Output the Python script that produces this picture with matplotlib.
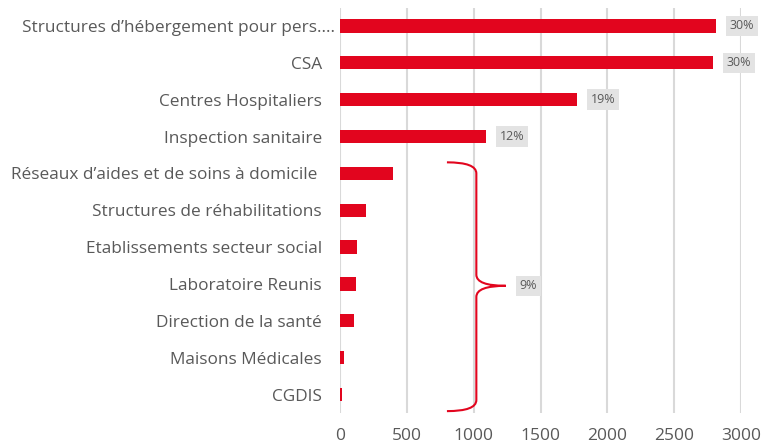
import matplotlib.pyplot as plt
import matplotlib.transforms as mtransforms
from matplotlib.path import Path
from matplotlib.patches import PathPatch

# ------------------------------------------------------------
# DONNEES
# ------------------------------------------------------------

categories = [
    "Structures d\u2019hébergement pour pers....",
    "CSA",
    "Centres Hospitaliers",
    "Inspection sanitaire",
    "Réseaux d\u2019aides et de soins à domicile ",
    "Structures de réhabilitations",
    "Etablissements secteur social",
    "Laboratoire Reunis",
    "Direction de la santé",
    "Maisons Médicales",
    "CGDIS",
]
values = [2810, 2790, 1770, 1090, 400, 192, 130, 122, 107, 28, 13]
pct_labels = ["30%", "30%", "19%", "12%"]
group_label = "9%"
group_start, group_end = 4, 10  # categories regroupées par l'accolade

RED = "#e2051e"
GREY_TXT = "#595959"

plt.rcParams["font.family"] = ["Open Sans", "DejaVu Sans"]

fig = plt.figure(figsize=(7.63, 4.47), dpi=100)
ax = fig.add_axes([0.4456, 0.0761, 0.5256, 0.9071])

y = list(range(len(categories)))
ax.barh(y, values, height=0.36, color=RED, zorder=3)

ax.set_xlim(0, 3000)
ax.set_ylim(len(categories) - 0.5, -0.5)
ax.set_xticks(range(0, 3001, 500))
ax.set_yticks(y)
ax.set_yticklabels(categories, fontsize=12.4, color=GREY_TXT)
ax.tick_params(axis="y", length=0, pad=13)
ax.tick_params(axis="x", length=0, pad=11, labelsize=12.5, labelcolor=GREY_TXT)
ax.grid(axis="x", color="#d9d9d9", linewidth=1.5, zorder=0)
for s in ax.spines.values():
    s.set_visible(False)

# premier label tronqué (plus proche de l'axe, comme dans Excel)
lab0 = ax.get_yticklabels()[0]
lab0.set_transform(lab0.get_transform()
                   + mtransforms.ScaledTranslation(13 / 100, 0, fig.dpi_scale_trans))

# etiquettes de pourcentage
box = dict(boxstyle="square,pad=0.3", fc="#e3e3e3", ec="none")
for i, lab in enumerate(pct_labels):
    ax.annotate(lab, (values[i], i), xytext=(10, 0), textcoords="offset points",
                ha="left", va="center", fontsize=9, color=GREY_TXT, bbox=box)

# accolade
yt = group_start - 0.3
yb = group_end + 0.45
ym = (group_start + group_end) / 2 + 0.05
xa, xv, xt = 800, 1020, 1240
r = 0.3
verts = [
    (xa, yt), (xv, yt), (xv, yt + r),
    (xv, ym - r),
    (xv, ym), (xt, ym),
    (xv, ym), (xv, ym + r),
    (xv, yb - r),
    (xv, yb), (xa, yb),
]
codes = [Path.MOVETO, Path.CURVE3, Path.CURVE3, Path.LINETO,
         Path.CURVE3, Path.CURVE3, Path.CURVE3, Path.CURVE3,
         Path.LINETO, Path.CURVE3, Path.CURVE3]
ax.add_patch(PathPatch(Path(verts, codes), fc="none", ec=RED, lw=1.5,
                       zorder=4, clip_on=False))
ax.annotate(group_label, (xt, ym), xytext=(10, 0), textcoords="offset points",
            ha="left", va="center", fontsize=9, color=GREY_TXT, bbox=box)

plt.savefig("out.png", dpi=100)
